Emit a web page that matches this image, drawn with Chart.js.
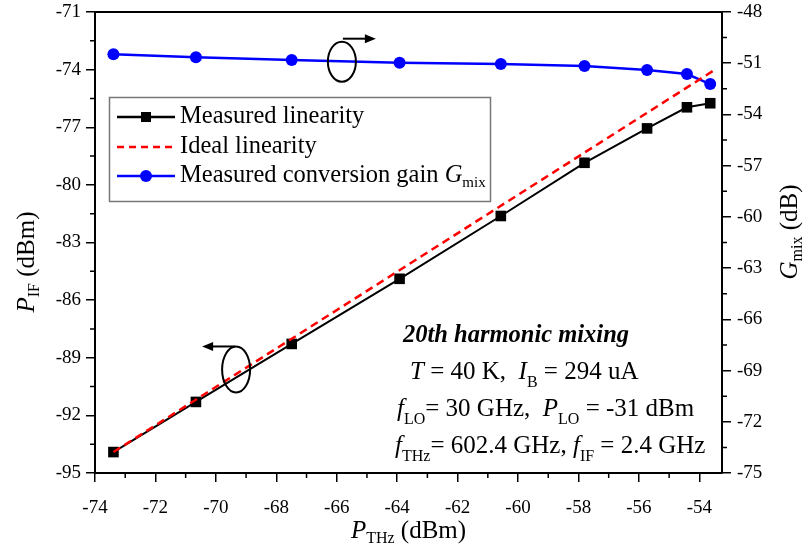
<!DOCTYPE html>
<html>
<head>
<meta charset="utf-8">
<script src="https://cdn.jsdelivr.net/npm/chart.js@4.4.0/dist/chart.umd.min.js"></script>
<style>
  html, body { margin: 0; padding: 0; background: #fff; }
</style>
</head>
<body>
<canvas id="chart_mix" width="808" height="549"></canvas>
<script>
// values
const pThz = [-73.39, -70.66, -67.49, -63.92, -60.57, -57.8, -55.73, -54.41, -53.64];
const pIf = [-93.91, -91.30, -88.28, -84.89, -81.62, -78.85, -77.06, -75.96, -75.75];
const gMix = [-50.48, -50.65, -50.81, -50.97, -51.05, -51.16, -51.40, -51.63, -52.22];
const idealThz = [-73.39, -53.5];
const idealIf = [-93.91, -74.02];

const xLabels = [-74, -72, -70, -68, -66, -64, -62, -60, -58, -56, -54];
const leftLabels = [-95, -92, -89, -86, -83, -80, -77, -74, -71];
const rightLabels = [-75, -72, -69, -66, -63, -60, -57, -54, -51, -48];

const FONT = '"Liberation Serif", "Times New Roman", serif';

function pts(xs, ys) {
  return xs.map((x, i) => ({ x: x, y: ys[i] }));
}

// draws a row of text pieces: [text, style] with style '', 'i', 'bi', 's' (subscript)
function drawRuns(ctx, runs, x, y, size, measureOnly) {
  let cx = x;
  runs.forEach(([t, st]) => {
    let f = size, dy = 0, w = '';
    if (st === 'i') w = 'italic ';
    if (st === 'bi') w = 'italic bold ';
    if (st === 's') { f = Math.round(size * 0.62); dy = size * 0.3; }
    ctx.font = w + f + 'px ' + FONT;
    if (!measureOnly) ctx.fillText(t, cx, y + dy);
    cx += ctx.measureText(t).width;
  });
  return cx - x;
}

function arrowHead(ctx, x, y, dir) {
  ctx.beginPath();
  ctx.moveTo(x, y);
  ctx.lineTo(x - dir * 11, y - 4.5);
  ctx.lineTo(x - dir * 11, y + 4.5);
  ctx.closePath();
  ctx.fill();
}

// keep the plot frame where the figure has it
function fixY(width) {
  return s => {
    s.width = width;
    s.paddingTop = 0;
    s.paddingBottom = 0;
  };
}

const decorPlugin = {
  id: 'decor',
  beforeDraw(chart) {
    const ctx = chart.ctx;
    ctx.save();
    ctx.fillStyle = '#fff';
    ctx.fillRect(0, 0, chart.width, chart.height);
    ctx.restore();
  },
  afterDraw(chart) {
    const ctx = chart.ctx;
    const a = chart.chartArea;
    const sx = chart.scales.x, sl = chart.scales.y, sr = chart.scales.y2;
    ctx.save();
    ctx.strokeStyle = '#000';
    ctx.fillStyle = '#000';

    // top frame line
    ctx.lineWidth = 2;
    ctx.beginPath();
    ctx.moveTo(a.left, a.top);
    ctx.lineTo(a.right, a.top);
    ctx.stroke();

    // minor ticks half way between the major ones
    ctx.lineWidth = 1.5;
    const minor = (scale, fn) => {
      const t = scale.ticks.map(k => k.value);
      for (let i = 0; i < t.length - 1; i++) fn(scale.getPixelForValue((t[i] + t[i + 1]) / 2));
      const last = t[t.length - 1] + (t[1] - t[0]) / 2;
      if (last < scale.max) fn(scale.getPixelForValue(last));
    };
    ctx.beginPath();
    minor(sx, p => { ctx.moveTo(p, a.bottom); ctx.lineTo(p, a.bottom + 5); });
    minor(sl, p => { ctx.moveTo(a.left, p); ctx.lineTo(a.left - 5, p); });
    minor(sr, p => { ctx.moveTo(a.right, p); ctx.lineTo(a.right + 5, p); });
    ctx.stroke();

    // axis titles
    ctx.textBaseline = 'middle';
    let runs = [['P', 'i'], ['IF', 's'], [' (dBm)', '']];
    let w = drawRuns(ctx, runs, 0, 0, 25, true);
    ctx.save();
    ctx.translate(27, 262);
    ctx.rotate(-Math.PI / 2);
    drawRuns(ctx, runs, -w / 2, 0, 25);
    ctx.restore();

    runs = [['G', 'i'], ['mix', 's'], [' (dB)', '']];
    w = drawRuns(ctx, runs, 0, 0, 25, true);
    ctx.save();
    ctx.translate(790, 232);
    ctx.rotate(-Math.PI / 2);
    drawRuns(ctx, runs, -w / 2, 0, 25);
    ctx.restore();

    runs = [['P', 'i'], ['THz', 's'], [' (dBm)', '']];
    w = drawRuns(ctx, runs, 0, 0, 25, true);
    drawRuns(ctx, runs, (a.left + a.right) / 2 - w / 2, 531, 25);

    // legend
    ctx.lineWidth = 1.5;
    ctx.strokeStyle = '#777';
    ctx.strokeRect(109.5, 97.5, 381, 104);
    const rows = [
      { y: 117, color: '#000', dash: [], mark: 'sq', label: [['Measured linearity', '']] },
      { y: 147, color: '#f00', dash: [7, 5], mark: null, label: [['Ideal linearity', '']] },
      { y: 176, color: '#00f', dash: [], mark: 'ci', label: [['Measured conversion gain ', ''], ['G', 'i'], ['mix', 's']] }
    ];
    rows.forEach(r => {
      ctx.strokeStyle = r.color;
      ctx.fillStyle = r.color;
      ctx.lineWidth = 2.5;
      ctx.setLineDash(r.dash);
      ctx.beginPath();
      ctx.moveTo(117, r.y);
      ctx.lineTo(175, r.y);
      ctx.stroke();
      ctx.setLineDash([]);
      if (r.mark === 'sq') ctx.fillRect(141, r.y - 5, 10, 10);
      if (r.mark === 'ci') { ctx.beginPath(); ctx.arc(146, r.y, 6, 0, Math.PI * 2); ctx.fill(); }
      ctx.fillStyle = '#000';
      drawRuns(ctx, r.label, 180, r.y, 24.5);
    });

    // measurement conditions
    ctx.fillStyle = '#000';
    ctx.textBaseline = 'alphabetic';
    drawRuns(ctx, [['20', 'bi'], ['th', 'bi'], [' harmonic mixing', 'bi']], 403, 342, 24.5);
    drawRuns(ctx, [['T', 'i'], [' = 40 K,  ', ''], ['I', 'i'], ['B', 's'], [' = 294 uA', '']], 410, 379, 25);
    drawRuns(ctx, [['f', 'i'], ['LO', 's'], ['= 30 GHz,  ', ''], ['P', 'i'], ['LO', 's'], [' = -31 dBm', '']], 397, 416, 25);
    drawRuns(ctx, [['f', 'i'], ['THz', 's'], ['= 602.4 GHz, ', ''], ['f', 'i'], ['IF', 's'], [' = 2.4 GHz', '']], 395, 453, 25);

    // axis pointers (ellipse with arrow)
    ctx.strokeStyle = '#000';
    ctx.lineWidth = 2;
    let cx = sx.getPixelForValue(-65.83), cy = sr.getPixelForValue(-50.91);
    ctx.beginPath();
    ctx.ellipse(cx, cy, 14, 20, 0, 0, Math.PI * 2);
    ctx.stroke();
    ctx.beginPath();
    ctx.moveTo(cx + 1, cy - 23);
    ctx.lineTo(cx + 24, cy - 23);
    ctx.stroke();
    arrowHead(ctx, cx + 34, cy - 23, 1);

    cx = sx.getPixelForValue(-69.33); cy = sl.getPixelForValue(-89.61);
    ctx.beginPath();
    ctx.ellipse(cx, cy, 14, 23, 0, 0, Math.PI * 2);
    ctx.stroke();
    ctx.beginPath();
    ctx.moveTo(cx - 1, cy - 23);
    ctx.lineTo(cx - 24, cy - 23);
    ctx.stroke();
    arrowHead(ctx, cx - 34, cy - 23, -1);

    ctx.restore();
  }
};

const tickFont = { family: FONT, size: 19 };

new Chart(document.getElementById('chart_mix'), {
  type: 'line',
  data: {
    datasets: [
      {
        label: 'Ideal linearity',
        data: pts(idealThz, idealIf),
        yAxisID: 'y',
        borderColor: '#f00',
        borderWidth: 2.5,
        borderDash: [8, 5],
        pointRadius: 0,
        fill: false
      },
      {
        label: 'Measured conversion gain',
        data: pts(pThz, gMix),
        yAxisID: 'y2',
        borderColor: '#00f',
        backgroundColor: '#00f',
        borderWidth: 2.5,
        pointStyle: 'circle',
        pointRadius: 6,
        pointBorderWidth: 0,
        fill: false
      },
      {
        label: 'Measured linearity',
        data: pts(pThz, pIf),
        yAxisID: 'y',
        borderColor: '#000',
        backgroundColor: '#000',
        borderWidth: 2,
        pointStyle: 'rect',
        pointRadius: 7.5,
        pointBorderWidth: 0,
        fill: false
      }
    ]
  },
  options: {
    responsive: false,
    animation: false,
    devicePixelRatio: 1,
    layout: { padding: { top: 12, left: 0, right: 0, bottom: 0 } },
    plugins: {
      legend: { display: false },
      title: { display: false },
      tooltip: { enabled: false }
    },
    scales: {
      x: {
        type: 'linear',
        position: 'bottom',
        min: -74,
        max: -53.25,
        afterFit: s => { s.height = 76; },
        border: { display: true, color: '#000', width: 2 },
        grid: { display: true, drawOnChartArea: false, drawTicks: true, tickLength: 9, color: '#000', lineWidth: 1.5 },
        ticks: {
          stepSize: 2,
          includeBounds: false,
          autoSkip: false,
          maxRotation: 0,
          padding: 15,
          color: '#000',
          font: tickFont,
          callback: v => (xLabels.includes(v) ? v : '')
        }
      },
      y: {
        type: 'linear',
        position: 'left',
        min: -95,
        max: -71,
        afterFit: fixY(95),
        border: { display: true, color: '#000', width: 2 },
        grid: { display: true, drawOnChartArea: false, drawTicks: true, tickLength: 9, color: '#000', lineWidth: 1.5 },
        ticks: {
          stepSize: 3,
          autoSkip: false,
          padding: 5,
          color: '#000',
          font: tickFont,
          callback: v => (leftLabels.includes(v) ? v : '')
        }
      },
      y2: {
        type: 'linear',
        position: 'right',
        min: -75,
        max: -48,
        afterFit: fixY(86),
        border: { display: true, color: '#000', width: 2 },
        grid: { display: true, drawOnChartArea: false, drawTicks: true, tickLength: 9, color: '#000', lineWidth: 1.5 },
        ticks: {
          stepSize: 3,
          autoSkip: false,
          padding: 6,
          color: '#000',
          font: tickFont,
          callback: v => (rightLabels.includes(v) ? v : '')
        }
      }
    }
  },
  plugins: [decorPlugin]
});
</script>
</body>
</html>
